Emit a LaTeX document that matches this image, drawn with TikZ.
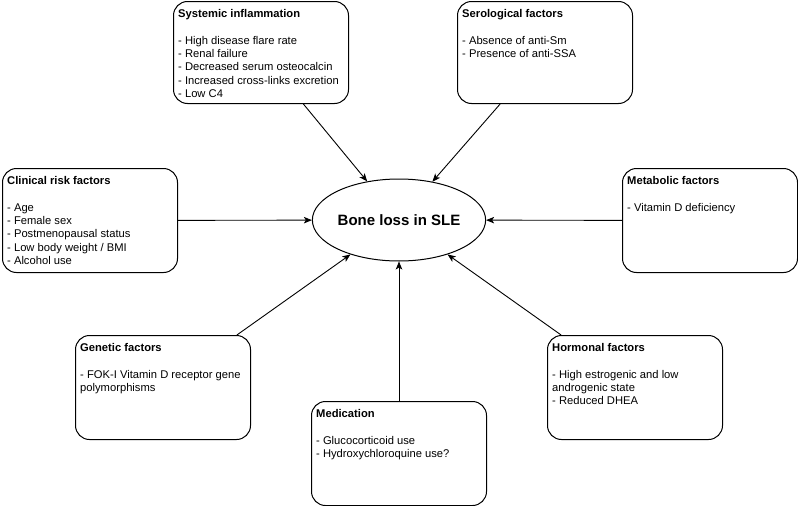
\documentclass[tikz,border=0pt]{standalone}
\usepackage{fontspec}
\setmainfont{Liberation Sans}
\usetikzlibrary{shapes.geometric,arrows.meta}
\begin{document}
\begin{tikzpicture}[x=1pt,y=-1pt,
  box/.style={draw,line width=1pt,rounded corners=14pt,minimum width=175pt,minimum height=104pt,inner sep=0pt,anchor=north west},
  txt/.style={anchor=north west,align=left,inner sep=0pt,font=\fontsize{11.2}{13.25}\selectfont},
  arr/.style={line width=0.9pt,-{Stealth[length=8pt,width=6.5pt,inset=2pt]}}]
\useasboundingbox (0,0) rectangle (798,506);
% central ellipse
\node[draw,line width=1pt,ellipse,minimum width=172pt,minimum height=82pt,inner sep=0pt,
      font=\bfseries\fontsize{15}{18}\selectfont] (bone) at (399,220) {Bone loss in SLE};
% boxes
\node[box,minimum height=102pt] (sys) at (173,1) {};
\node[box,minimum height=102pt] (ser) at (457,1) {};
\node[box] (cli) at (2,168) {};
\node[box] (met) at (622,168) {};
\node[box] (gen) at (75,335) {};
\node[box] (hor) at (547,335) {};
\node[box] (med) at (311,401) {};
% texts
\node[txt] (sysT) at ([shift={(5,8.5)}]sys.north west) {\textbf{Systemic inflammation}\\[13.25pt]
- High disease flare rate\\- Renal failure\\- Decreased serum osteocalcin\\- Increased cross-links excretion\\- Low C4};
\node[txt] (serT) at ([shift={(5,8.5)}]ser.north west) {\textbf{Serological factors}\\[13.25pt]
- Absence of anti-Sm\\- Presence of anti-SSA};
\node[txt] (cliT) at ([shift={(5,8.5)}]cli.north west) {\textbf{Clinical risk factors}\\[13.25pt]
- Age\\- Female sex\\- Postmenopausal status\\- Low body weight / BMI\\- Alcohol use};
\node[txt] (metT) at ([shift={(5,8.5)}]met.north west) {\textbf{Metabolic factors}\\[13.25pt]
- Vitamin D deficiency};
\node[txt] (genT) at ([shift={(5,8.5)}]gen.north west) {\textbf{Genetic factors}\\[13.25pt]
- FOK-I Vitamin D receptor gene\\polymorphisms};
\node[txt] (horT) at ([shift={(5,8.5)}]hor.north west) {\textbf{Hormonal factors}\\[13.25pt]
- High estrogenic and low\\androgenic state\\- Reduced DHEA};
\node[txt] (medT) at ([shift={(5,8.5)}]med.north west) {\textbf{Medication}\\[13.25pt]
- Glucocorticoid use\\- Hydroxychloroquine use?};
% connectors
\draw[arr] (sys) -- (bone);
\draw[arr] (ser) -- (bone);
\draw[arr] (cli) -- (bone);
\draw[arr] (met) -- (bone);
\draw[arr] (gen) -- (bone);
\draw[arr] (hor) -- (bone);
\draw[arr] (med) -- (bone);
\end{tikzpicture}
\end{document}
